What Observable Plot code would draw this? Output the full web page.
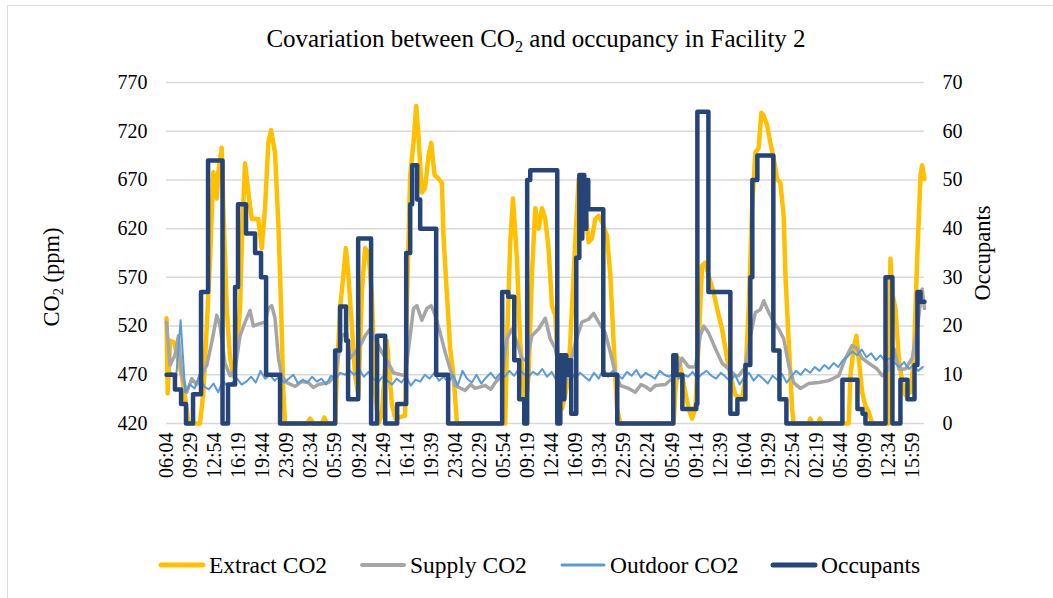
<!DOCTYPE html>
<html>
<head>
<meta charset="utf-8">
<script src="https://cdn.jsdelivr.net/npm/d3@7"></script>
<script src="https://cdn.jsdelivr.net/npm/@observablehq/plot@0.6"></script>
<style>
  html, body { margin: 0; padding: 0; background: #fff; }
  #wrap { position: relative; width: 1053px; height: 598px; overflow: hidden; font-family: "Liberation Serif", "Times New Roman", serif; color: #000; }
  #frame { position: absolute; left: 7px; top: 5px; width: 1100px; height: 700px; border: 1.5px solid #d9d9d9; box-sizing: border-box; }
  #chart { position: absolute; left: 0; top: 0; }
  #title { position: absolute; left: 0; width: 1072px; top: 24px; text-align: center; font-size: 25px; line-height: 30px; }
  .ylab { position: absolute; font-size: 22.5px; white-space: nowrap; transform: translate(-50%, -50%) rotate(-90deg); }
  sub { font-size: 0.65em; vertical-align: -0.3em; line-height: 0; }
  .leg { position: absolute; top: 551px; font-size: 23.5px; line-height: 28px; white-space: nowrap; display: flex; align-items: center; }
  .leg svg { margin-right: 3px; }
</style>
</head>
<body>
<div id="wrap">
  <div id="frame"></div>
  <div id="chart"></div>
  <div id="title">Covariation between CO<sub>2</sub> and occupancy in Facility 2</div>
  <div class="ylab" style="left:52px; top:277px;">CO<sub>2</sub> (ppm)</div>
  <div class="ylab" style="left:983px; top:253px;">Occupants</div>
  <div id="legend"></div>
</div>
<script>
// x tick labels (every 205 minutes starting 06:04)
const tickLabels = ["06:04","09:29","12:54","16:19","19:44","23:09","02:34","05:59","09:24","12:49","16:14","19:39","23:04","02:29","05:54","09:19","12:44","16:09","19:34","22:59","02:24","05:49","09:14","12:39","16:04","19:29","22:54","02:19","05:44","09:09","12:34","15:59"];
const tickStepMin = 205;
const xEndMin = 6454;
const co2Ticks = [420, 470, 520, 570, 620, 670, 720, 770];
const occTicks = [0, 10, 20, 30, 40, 50, 60, 70];

// [minutes from start, ppm]
const extractCO2 = [[0,528],[10,451],[30,505],[66,503],[101,485],[130,469],[172,435],[186,420],[285,420],[314,452],[343,520],[371,589],[399,678],[428,651],[441,678],[470,703],[484,641],[513,538],[541,487],[569,469],[598,497],[626,538],[646,623],[669,687],[697,657],[726,630],[782,630],[811,600],[839,641],[867,708],[890,721],[924,698],[953,623],[976,538],[995,452],[1010,420],[1195,420],[1223,425],[1251,420],[1322,420],[1344,426],[1365,420],[1436,420],[1450,469],[1478,538],[1506,572],[1527,600],[1549,572],[1578,520],[1606,469],[1634,449],[1663,554],[1691,600],[1719,595],[1748,554],[1776,452],[1805,420],[1834,430],[1876,505],[1919,440],[1947,425],[2032,428],[2046,538],[2075,675],[2103,708],[2126,746],[2145,716],[2174,657],[2202,662],[2231,695],[2254,708],[2282,675],[2311,672],[2345,667],[2358,613],[2387,554],[2415,497],[2444,469],[2473,420],[2884,420],[2899,503],[2927,606],[2950,651],[2984,589],[3012,503],[3054,435],[3083,469],[3111,572],[3140,641],[3168,620],[3197,641],[3225,630],[3253,600],[3282,541],[3310,531],[3338,469],[3367,435],[3395,449],[3423,469],[3452,538],[3480,606],[3509,671],[3537,675],[3566,641],[3594,606],[3623,610],[3651,630],[3679,633],[3708,627],[3750,613],[3779,572],[3807,503],[3836,435],[3864,420],[4318,420],[4332,452],[4361,487],[4390,469],[4418,452],[4446,435],[4475,425],[4503,435],[4531,503],[4560,582],[4588,585],[4616,572],[4659,554],[4688,538],[4730,517],[4773,487],[4801,469],[4844,449],[4901,445],[4929,469],[4957,538],[4986,641],[5014,698],[5042,703],[5065,739],[5085,736],[5114,726],[5142,708],[5170,692],[5199,671],[5227,667],[5255,633],[5270,572],[5298,503],[5327,435],[5340,420],[5468,420],[5483,425],[5497,420],[5548,420],[5562,425],[5582,420],[5809,420],[5823,469],[5851,497],[5874,510],[5894,487],[5923,452],[5951,438],[5979,432],[6008,420],[6150,420],[6164,589],[6179,554],[6207,538],[6235,487],[6264,462],[6292,449],[6335,452],[6363,487],[6392,589],[6420,675],[6434,685],[6454,671]];

const supplyCO2 = [[0,524],[30,480],[72,490],[101,510],[130,470],[172,452],[215,466],[257,460],[300,469],[343,480],[385,503],[428,531],[456,520],[498,482],[541,469],[584,475],[626,510],[669,524],[711,536],[740,520],[782,522],[839,524],[867,538],[896,541],[924,528],[953,487],[981,469],[1024,462],[1095,458],[1150,463],[1208,462],[1250,457],[1293,460],[1379,462],[1436,469],[1493,510],[1535,513],[1563,487],[1606,493],[1663,503],[1691,510],[1734,517],[1776,507],[1834,493],[1890,482],[1932,472],[2032,469],[2075,510],[2103,538],[2132,541],[2174,526],[2217,538],[2254,541],[2288,531],[2330,513],[2373,493],[2415,476],[2458,459],[2543,454],[2590,460],[2628,456],[2714,459],[2760,455],[2799,462],[2856,469],[2899,507],[2941,517],[2984,503],[3026,487],[3069,484],[3111,510],[3168,517],[3225,528],[3267,507],[3310,497],[3353,469],[3395,460],[3438,480],[3480,503],[3537,524],[3594,527],[3637,533],[3679,524],[3736,513],[3779,493],[3821,472],[3864,459],[3935,456],[3992,452],[4040,460],[4077,458],[4120,454],[4162,459],[4247,460],[4332,469],[4390,487],[4446,478],[4503,478],[4545,510],[4574,520],[4616,513],[4673,497],[4730,482],[4787,476],[4844,469],[4872,469],[4929,478],[4971,510],[5014,534],[5057,537],[5085,546],[5128,534],[5170,524],[5213,517],[5255,507],[5298,480],[5340,462],[5397,456],[5468,461],[5553,462],[5639,464],[5724,469],[5781,487],[5838,500],[5880,497],[5923,487],[5979,482],[6051,476],[6094,469],[6150,476],[6193,497],[6235,476],[6292,476],[6349,487],[6392,517],[6434,558],[6454,538]];

// outdoor CO2 sampled every 40 minutes
const outdoorStepMin = 40;
const outdoorCO2 = [
469,472,464,526,452,460,456,470,458,455,
461,452,464,458,462,466,460,463,468,462,
474,466,470,464,468,462,466,470,461,465,
462,468,463,466,460,469,466,472,470,474,
470,476,468,473,466,462,468,464,460,466,
462,468,459,465,463,470,466,472,464,468,
462,470,459,474,466,462,470,461,467,472,
466,471,468,474,469,476,471,468,473,470,
476,468,473,464,471,467,474,466,472,468,
464,472,466,476,468,474,470,466,473,469,
475,467,472,469,466,474,470,468,472,466,
470,468,473,466,471,474,469,466,472,468,
463,470,460,468,472,464,470,466,461,469,
465,471,462,468,474,470,476,472,478,474,
480,476,482,478,485,489,494,490,496,488,
492,485,490,484,487,482,478,483,476,480,474,478];

// [minutes from start, people] (step changes)
const occupants = [[0,10],[72,7],[124,4],[166,0],[226,6],[294,27],[354,54],[477,0],[524,8],[584,28],[609,45],[677,39],[754,35],[805,30],[848,10],[967,0],[1436,15],[1478,24],[1529,17],[1546,5],[1632,38],[1742,0],[1793,18],[1862,0],[1964,4],[2041,35],[2075,45],[2092,53],[2134,46],[2160,40],[2296,10],[2398,0],[2858,27],[2910,26],[2961,13],[3003,5],[3046,0],[3071,50],[3097,52],[3327,0],[3353,14],[3370,5],[3387,14],[3404,10],[3421,13],[3446,2],[3489,34],[3515,51],[3532,38],[3540,51],[3557,40],[3574,50],[3591,44],[3719,10],[3838,0],[4315,14],[4341,10],[4392,3],[4511,4],[4520,64],[4614,27],[4801,2],[4861,5],[4929,12],[4971,30],[4988,50],[5031,55],[5167,15],[5219,5],[5278,0],[5755,9],[5883,3],[5926,2],[5951,0],[6122,30],[6181,0],[6249,9],[6309,5],[6369,12],[6394,27],[6420,25],[6454,25]];

const series = [
  {name: "Extract CO2", color: "#FFC000", width: 4.5},
  {name: "Supply CO2", color: "#A5A5A5", width: 3.5},
  {name: "Outdoor CO2", color: "#5B9BD5", width: 2},
  {name: "Occupants", color: "#264478", width: 4.5}
];

// secondary axis: 0..70 people mapped onto 420..770 ppm
const occToCO2 = v => 420 + v * 5;
const outdoorData = outdoorCO2.map((v, i) => [i * outdoorStepMin, v]);
const xTicks = tickLabels.map((_, i) => i * tickStepMin);
const font = {fontFamily: "'Liberation Serif', 'Times New Roman', serif", fontSize: "20px"};

const chart = Plot.plot({
  width: 1053,
  height: 598,
  marginLeft: 166,
  marginRight: 129,
  marginTop: 82,
  marginBottom: 175,
  style: {fontFamily: font.fontFamily, color: "#000", background: "transparent"},
  x: {domain: [0, xEndMin]},
  y: {domain: [420, 770]},
  marks: [
    Plot.gridY(co2Ticks, {stroke: "#d9d9d9", strokeOpacity: 1, strokeWidth: 1.5}),
    Plot.line(extractCO2, {x: d => d[0], y: d => d[1], stroke: series[0].color, strokeWidth: series[0].width, strokeLinejoin: "round", strokeLinecap: "round"}),
    Plot.line(supplyCO2, {x: d => d[0], y: d => d[1], stroke: series[1].color, strokeWidth: series[1].width, strokeLinejoin: "round"}),
    Plot.line(outdoorData, {x: d => d[0], y: d => d[1], stroke: series[2].color, strokeWidth: series[2].width, strokeLinejoin: "round"}),
    Plot.line(occupants, {x: d => d[0], y: d => occToCO2(d[1]), curve: "step-after", stroke: series[3].color, strokeWidth: series[3].width, strokeLinejoin: "round", strokeLinecap: "round"}),
    Plot.axisY(co2Ticks, {anchor: "left", tickSize: 0, tickPadding: 19, label: null, fontSize: font.fontSize}),
    Plot.axisY(co2Ticks, {anchor: "right", tickSize: 0, tickPadding: 18, label: null, fontSize: font.fontSize, tickFormat: d => String(Math.round((d - 420) / 5))}),
    Plot.axisX(xTicks, {anchor: "bottom", tickSize: 0, tickPadding: 9, tickRotate: -90, label: null, fontSize: font.fontSize, tickFormat: d => tickLabels[Math.round(d / tickStepMin)]})
  ]
});
document.getElementById("chart").appendChild(chart);

// legend
const legendPos = [158, 359, 559, 770];
const legend = document.getElementById("legend");
series.forEach((s, i) => {
  const item = document.createElement("div");
  item.className = "leg";
  item.style.left = legendPos[i] + "px";
  item.innerHTML = `<svg width="48" height="10"><line x1="3" y1="5" x2="45" y2="5" stroke="${s.color}" stroke-width="${Math.max(s.width, 2.5) + 0.5}" stroke-linecap="round"/></svg><span>${s.name}</span>`;
  legend.appendChild(item);
});
</script>
</body>
</html>
